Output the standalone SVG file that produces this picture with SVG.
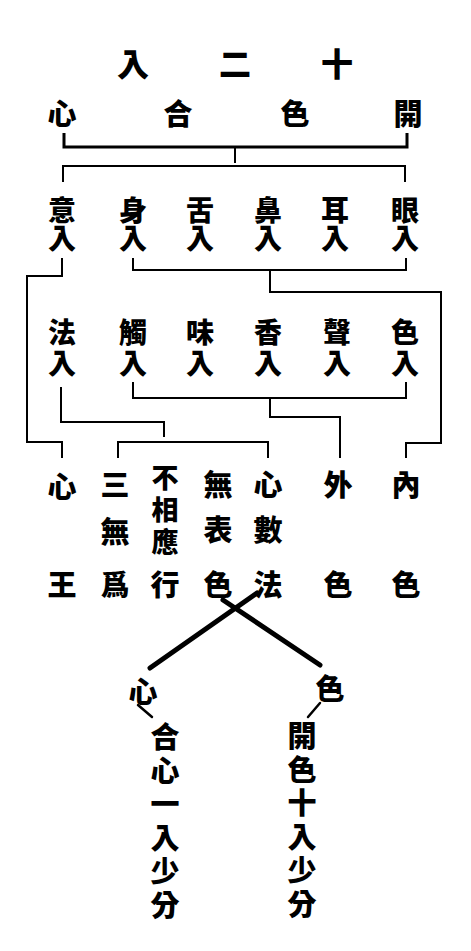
<svg xmlns="http://www.w3.org/2000/svg" width="471" height="951" viewBox="0 0 471 951">
<style>
text { font-family: "Noto Sans CJK TC","Noto Sans CJK SC",sans-serif; font-weight:900; fill:#000; }
.m { text-anchor:middle; dominant-baseline:central; }
.v { writing-mode:vertical-rl; text-anchor:start; }
.t { font-size:32px }
.a { font-size:29px }
.b { font-size:28px; letter-spacing:0 }
.b3 { font-size:28px; letter-spacing:3px }
.c { font-size:29px }
.s { font-size:27px; letter-spacing:5px }
.l { font-size:29px; letter-spacing:4.5px }
.w { fill:none; stroke:#000; stroke-width:2; stroke-linejoin:miter }
.h { stroke-width:3 }
.k { fill:none; stroke:#000; stroke-width:5; stroke-linecap:round }
.n { fill:none; stroke:#000; stroke-width:2.5; stroke-linecap:round }
</style>
<rect width="471" height="951" fill="#fff"/>

<g id="title"><text class="t m" x="133" y="62">入</text><text class="t m" x="235" y="62">二</text><text class="t m" x="337" y="62">十</text></g>
<g id="kaise-goshin"><text class="a m" x="62" y="112">心</text><text class="a m" x="178" y="112">合</text><text class="a m" x="295" y="112">色</text><text class="a m" x="408" y="112">開</text></g>

<g id="row-inner">
<g id="i-mind"><text class="b v" x="62" y="196">意入</text></g>
<g id="i-body"><text class="b v" x="133" y="196">身入</text></g>
<g id="i-tongue"><text class="b v" x="200" y="196">舌入</text></g>
<g id="i-nose"><text class="b v" x="268" y="196">鼻入</text></g>
<g id="i-ear"><text class="b v" x="335" y="196">耳入</text></g>
<g id="i-eye"><text class="b v" x="405" y="196">眼入</text></g>
</g>

<g id="row-outer">
<g id="o-dharma"><text class="b3 v" x="62" y="318">法入</text></g>
<g id="o-touch"><text class="b3 v" x="133" y="318">觸入</text></g>
<g id="o-taste"><text class="b3 v" x="200" y="318">味入</text></g>
<g id="o-smell"><text class="b3 v" x="268" y="318">香入</text></g>
<g id="o-sound"><text class="b3 v" x="337" y="318">聲入</text></g>
<g id="o-form"><text class="b3 v" x="405" y="318">色入</text></g>
</g>

<g id="row-dharmas">
<g id="d-shinno"><text class="c m" x="62" y="485">心</text><text class="c m" x="62" y="583">王</text></g>
<g id="d-mui"><text class="c m" x="115" y="483">三</text><text class="c m" x="115" y="530">無</text><text class="c m" x="115" y="583">爲</text></g>
<g id="d-fusoo"><text class="s v" x="165" y="464.5">不相應</text><text class="c m" x="165" y="583">行</text></g>
<g id="d-muhyo"><text class="c m" x="218" y="483">無</text><text class="c m" x="218" y="528">表</text><text class="c m" x="218" y="583">色</text></g>
<g id="d-shinju"><text class="c m" x="268" y="483">心</text><text class="c m" x="268" y="528">數</text><text class="c m" x="268" y="583">法</text></g>
<g id="d-gesiki"><text class="c m" x="338" y="483">外</text><text class="c m" x="338" y="583">色</text></g>
<g id="d-naishiki"><text class="c m" x="406" y="483">內</text><text class="c m" x="406" y="583">色</text></g>
</g>

<g id="mind"><text class="c m" x="143" y="690">心</text>
<text class="l v" x="165" y="722.5">合心一入少分</text></g>
<g id="form"><text class="c m" x="330" y="687">色</text>
<text class="l v" x="302" y="721.5">開色十入少分</text></g>

<g id="connectors">
<path class="w h" d="M64 133 V147 H407 V133"/>
<path class="w" d="M235 147 V163"/>
<path class="w" d="M63 182 V166 H405 V182"/>
<path class="w" d="M62 258 V276 H27 V442 H62 V458"/>
<path class="w" d="M133 258 V270 H406 V258"/>
<path class="w" d="M270 270 V292 H441 V443 H406 V458"/>
<path class="w" d="M61 387 V422 H164 V437"/>
<path class="w" d="M118 458 V442 H268 V458"/>
<path class="w" d="M133 382 V398 H406 V382"/>
<path class="w" d="M270 398 V417 H340 V458"/>
<path class="k" d="M223 600 L320 665"/>
<path class="k" d="M257 593 L150 668"/>
<path class="n" d="M138 705 L152 717"/>
<path class="n" d="M320 703 L308 717"/>
</g>
</svg>
